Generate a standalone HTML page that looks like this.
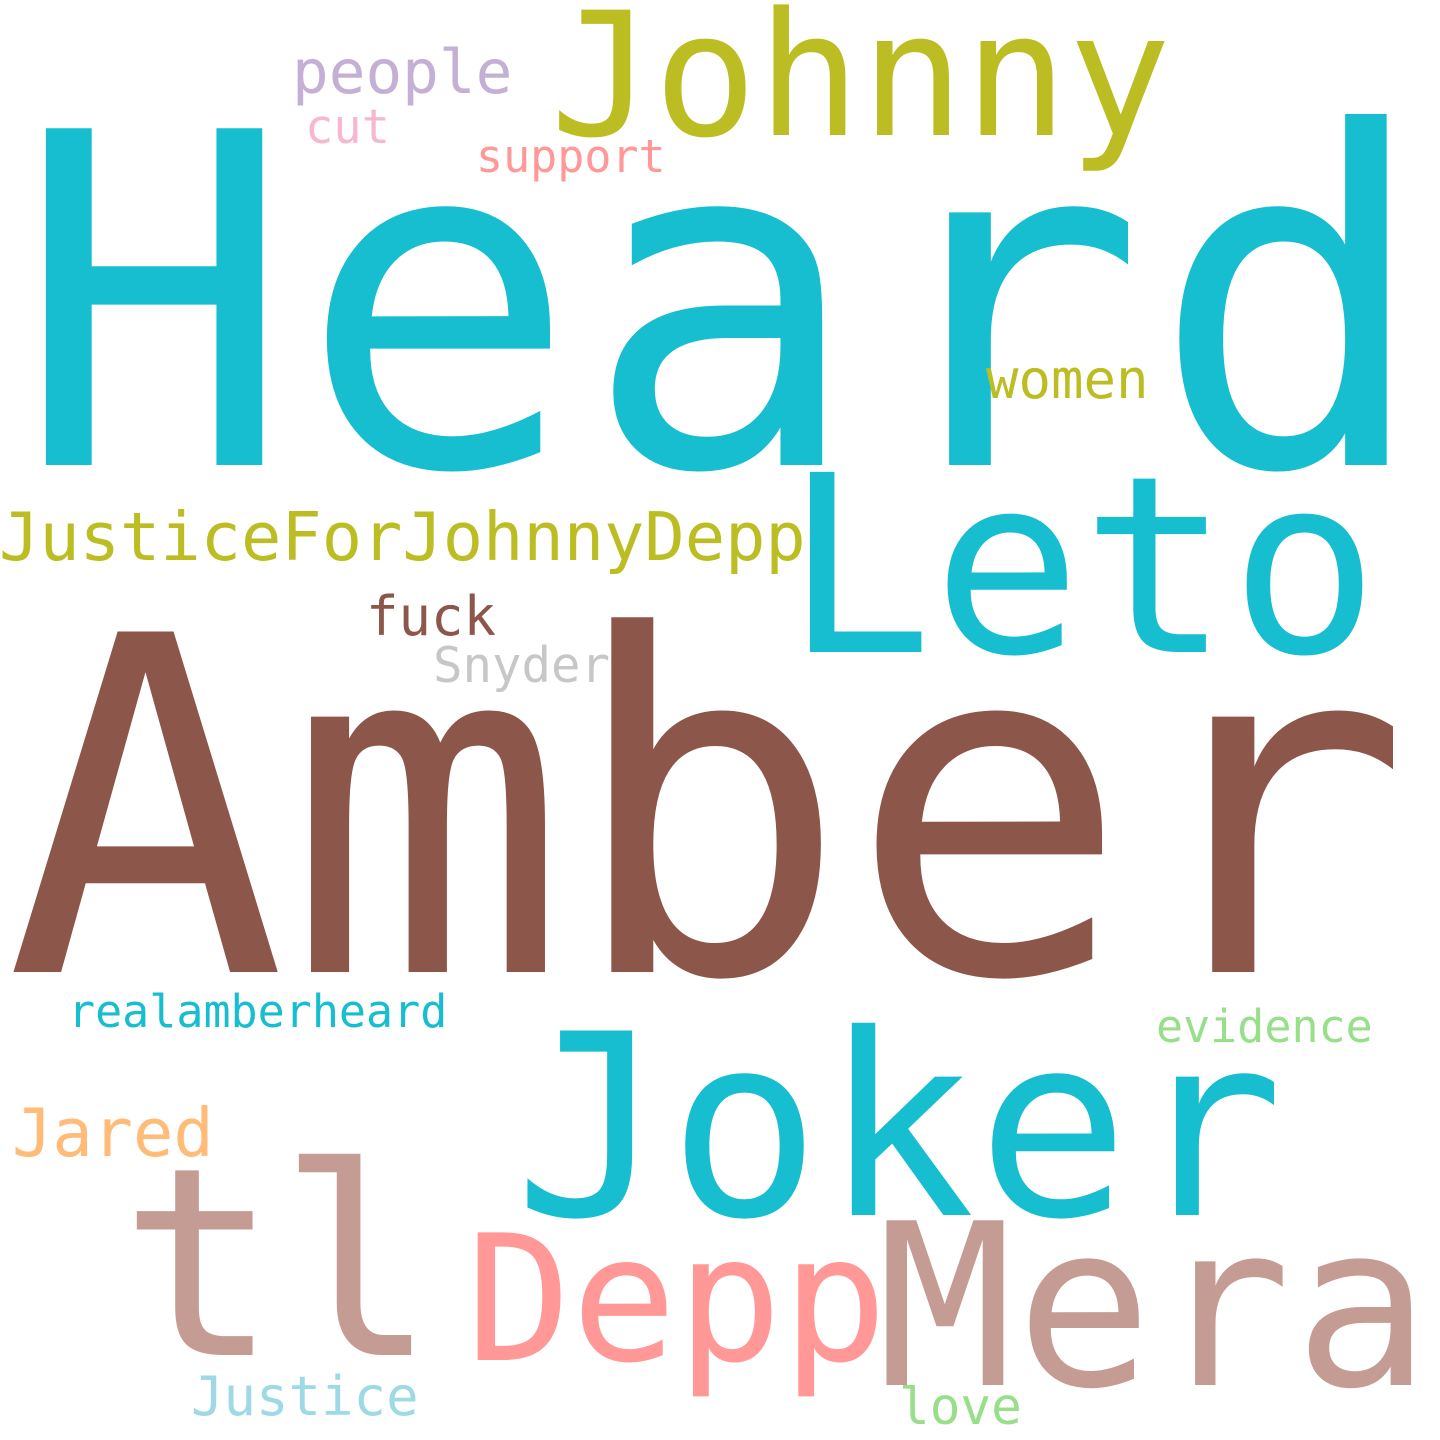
<!DOCTYPE html>
<html><head><meta charset="utf-8"><style>
html,body{margin:0;padding:0;background:#fff;width:1440px;height:1440px;overflow:hidden}
svg text{font-family:"DejaVu Sans Mono","Liberation Mono",monospace}
</style></head><body>
<svg id="cloud" width="1440" height="1440" viewBox="0 0 1440 1440" xmlns="http://www.w3.org/2000/svg">
<rect width="1440" height="1440" fill="#fff"/>
</svg>
<script>
const words = ["Heard","Amber","Johnny","Leto","Joker","tl","Depp","Mera","JusticeForJohnnyDepp","people","cut","support","women","fuck","Snyder","realamberheard","evidence","Jared","Justice","love"];
const sizes = [462,467,172,247,253,263,175,226,67,61,47,45,54,54,49,45,45,67,54,51];
const xs = [15,5,550,784,514,120,466,877,-1,292,305,476,986,366,433,68,1156,12,191,899];
const ys = [465,972,135,652,1215,1355,1360,1385,560,93,143,172,398,635,682,1027,1042,1156,1415,1424];
const spacing = [6,0,0,0,2,0,0,3,0,0,0,0,0,0,0,0,0,0,0,0];
const colors = ["#17becf","#8c564b","#bcbd22","#17becf","#17becf","#c49c94","#ff9896","#c49c94","#bcbd22","#c5b0d5","#f7b6d2","#ff9896","#bcbd22","#8c564b","#c7c7c7","#17becf","#98df8a","#ffbb78","#9edae5","#98df8a"];
const svg = document.getElementById('cloud');
words.forEach((w,i)=>{
  const t = document.createElementNS('http://www.w3.org/2000/svg','text');
  t.setAttribute('x', xs[i]);
  t.setAttribute('y', ys[i]);
  t.setAttribute('font-size', sizes[i]);
  t.setAttribute('letter-spacing', spacing[i]);
  t.setAttribute('fill', colors[i]);
  t.textContent = w;
  
  
  svg.appendChild(t);
});
</script>
</body></html>
